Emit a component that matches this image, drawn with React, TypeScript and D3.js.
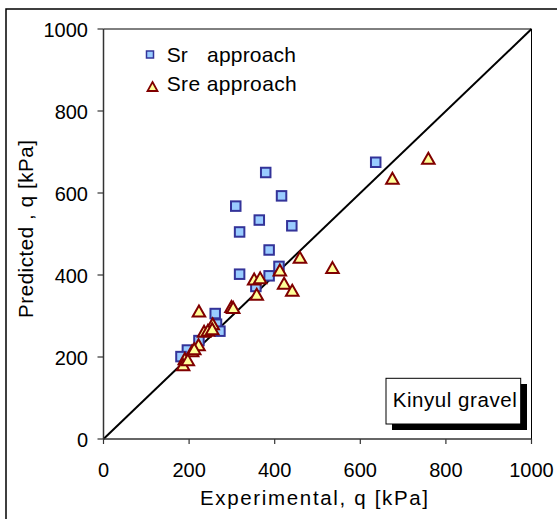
import React from "react";
import * as d3 from "d3";

// Sr approach: [experimental q, predicted q] in kPa
const srExperimental = [636, 379, 416, 309, 364, 440, 318, 387, 410, 318, 387, 356, 261, 264, 272, 223, 196, 181];
const srPredicted = [675, 650, 593, 568, 534, 520, 505, 461, 421, 402, 398, 372, 306, 280, 263, 240, 217, 201];

// Sre approach: [experimental q, predicted q] in kPa
const sreExperimental = [759, 675, 459, 535, 412, 422, 441, 352, 366, 358, 299, 303, 223, 255, 235, 244, 254, 222, 207, 212, 190, 186, 197];
const srePredicted = [685, 636, 443, 418, 412, 380, 363, 390, 393, 353, 323, 321, 312, 281, 263, 265, 269, 230, 215, 220, 196, 181, 193];

const xTicks = [0, 200, 400, 600, 800, 1000];
const yTicks = [0, 200, 400, 600, 800, 1000];
const domain: [number, number] = [0, 1000];

const FONT = "'Liberation Sans', Arial, sans-serif";

export default function App() {
  const x = d3.scaleLinear().domain(domain).range([103.5, 531.5]);
  const y = d3.scaleLinear().domain(domain).range([439, 29]);

  const sr = srExperimental.map((v, i) => [v, srPredicted[i]] as [number, number]);
  const sre = sreExperimental.map((v, i) => [v, srePredicted[i]] as [number, number]);

  const triPath = (cx: number, cy: number, w: number, h: number) =>
    `M${cx},${cy - h / 2}L${cx + w / 2},${cy + h / 2}L${cx - w / 2},${cy + h / 2}Z`;

  const diag = d3.line<number>().x((d) => x(d)).y((d) => y(d))(domain) || "";

  return (
    <svg
      width={557}
      height={519}
      style={{ position: "absolute", left: 0, top: 0, background: "#fff" }}
      fontFamily={FONT}
    >
      <rect x={0} y={0} width={557} height={519} fill="#fff" />
      {/* outer chart frame */}
      <path d="M6,519V9H557" fill="none" stroke="#000" strokeWidth={1.5} />

      {/* plot border */}
      <path d={`M${x(0)},${y(1000)}H${x(1000)}V${y(0)}`} fill="none" stroke="#000" strokeWidth={1} />

      {/* y = x line */}
      <path d={diag} stroke="#000" strokeWidth={2} fill="none" />

      {/* axes */}
      <line x1={x(0)} x2={x(0)} y1={y(1000)} y2={y(0)} stroke="#333" strokeWidth={1.5} />
      <line x1={x(0)} x2={x(1000)} y1={y(0)} y2={y(0)} stroke="#333" strokeWidth={1.5} />

      {yTicks.map((t) => (
        <g key={`yt${t}`}>
          <line x1={x(0) - 6} x2={x(0)} y1={y(t)} y2={y(t)} stroke="#333" strokeWidth={1.2} />
          <text x={88} y={y(t) + 7.5} textAnchor="end" fontSize={20} fill="#000">
            {t}
          </text>
        </g>
      ))}
      {xTicks.map((t) => (
        <g key={`xt${t}`}>
          <line x1={x(t)} x2={x(t)} y1={y(0)} y2={y(0) + 5} stroke="#333" strokeWidth={1.2} />
          <text x={x(t)} y={477} textAnchor="middle" fontSize={20} fill="#000">
            {t}
          </text>
        </g>
      ))}

      {/* axis titles */}
      <text x={200} y={505} fontSize={20.5} textLength={228} lengthAdjust="spacing" fill="#000">
        Experimental, q [kPa]
      </text>
      <text
        transform={`translate(33,318) rotate(-90)`}
        fontSize={20.5}
        textLength={178}
        lengthAdjust="spacing"
        fill="#000"
      >
        Predicted , q [kPa]
      </text>

      {/* Sr markers */}
      {sr.map(([a, b], i) => (
        <rect
          key={`sr${i}`}
          x={x(a) - 4.75}
          y={y(b) - 4.75}
          width={9.5}
          height={9.5}
          fill="#99CCFF"
          stroke="#333399"
          strokeWidth={2}
        />
      ))}

      {/* Sre markers */}
      {sre.map(([a, b], i) => (
        <path
          key={`sre${i}`}
          d={triPath(x(a), y(b), 12.5, 11)}
          fill="#FFFF99"
          stroke="#800000"
          strokeWidth={2}
          strokeLinejoin="miter"
        />
      ))}

      {/* legend */}
      <rect x={146.5} y={51} width={7} height={7} fill="#99CCFF" stroke="#333399" strokeWidth={1.5} />
      <text x={166.7} y={62} fontSize={21} fill="#000">Sr</text>
      <text x={207} y={62} fontSize={21} textLength={89} lengthAdjust="spacing" fill="#000">approach</text>
      <path d={triPath(152.5, 86.5, 10, 9)} fill="#FFFF99" stroke="#800000" strokeWidth={1.8} />
      <text x={166.7} y={91} fontSize={21} textLength={130} lengthAdjust="spacing" fill="#000">
        Sre approach
      </text>

      {/* label box with shadow */}
      <rect x={392} y={384} width={135} height={46} fill="#000" />
      <rect x={386} y={378.3} width={134.7} height={45.7} fill="#fff" stroke="#000" strokeWidth={1} />
      <text x={392.7} y={407} fontSize={20.5} textLength={124} lengthAdjust="spacing" fill="#000">
        Kinyul gravel
      </text>
    </svg>
  );
}
